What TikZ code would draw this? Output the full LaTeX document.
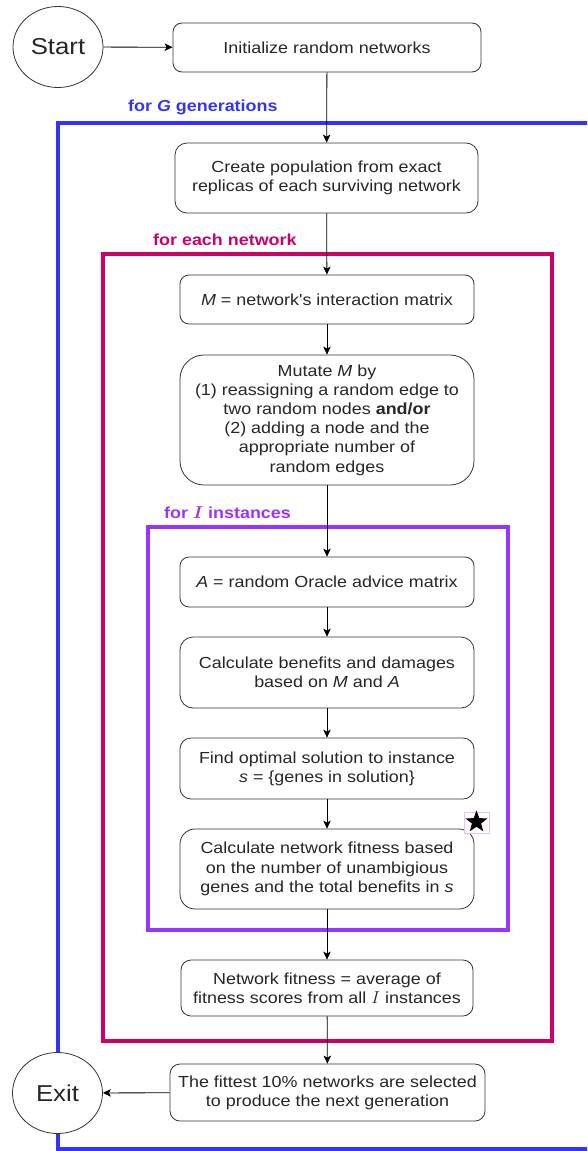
\documentclass[tikz,border=0pt]{standalone}
\usepackage{fontspec}
\setmainfont{Liberation Sans}[FakeStretch=1.12, Ligatures=TeXOff]
\usepackage{bm}
\usetikzlibrary{arrows.meta,shapes.geometric}

\definecolor{genblue}{HTML}{3333FF}
\definecolor{netmagenta}{HTML}{CC0066}
\definecolor{instpurple}{HTML}{9933FF}
\definecolor{boxline}{HTML}{333333}
\definecolor{boxtext}{HTML}{262626}

\tikzset{
  box/.style={draw=boxline, line width=0.8pt, fill=white, rounded corners=#1,
    align=center, inner sep=0pt, text=boxtext, font=\fontsize{16}{19.2}\selectfont},
  box/.default=9pt,
  terminal/.style={ellipse, draw=boxline, line width=0.8pt, fill=white,
    minimum width=90pt, minimum height=81pt, inner sep=0pt, text=boxtext,
    font=\fontsize{23}{27}\selectfont},
  frame/.style={line width=4pt},
  looplabel/.style={anchor=west, inner sep=0pt,
    font=\fontsize{16}{19.2}\selectfont\bfseries},
  flow/.style={line width=0.8pt, -{Stealth[length=8pt,width=7.5pt,inset=2pt]}},
}

\begin{document}
\begin{tikzpicture}[x=1pt,y=-1pt]
\clip (0,0) rectangle (587,1151);
\useasboundingbox (0,0) rectangle (587,1151);

% loop frames
\draw[frame, genblue] (57.5,123) rectangle (640,1149);
\draw[frame, netmagenta] (102.5,254) rectangle (551.5,1041);
\draw[frame, instpurple] (147.5,527) rectangle (507.5,930);

% loop labels
\node[looplabel, text=genblue] (lblG) at (128,107) {for \textit{G} generations};
\node[looplabel, text=netmagenta] (lblN) at (153,240) {for each network};
\node[looplabel, text=instpurple] (lblI) at (164,513) {for $\bm{I}$ instances};

% terminals
\node[terminal] (start) at (58,47) {Start};
\node[terminal] (exit) at (57.5,1093) {Exit};

% process steps
\node[box, minimum width=308pt, minimum height=49pt] (init) at (327,47.5)
  {Initialize random networks};
\node[box=12pt, minimum width=303pt, minimum height=70pt] (create) at (326.5,178)
  {Create population from exact\\replicas of each surviving network};
\node[box, minimum width=294pt, minimum height=49pt] (mmat) at (327,299.5)
  {\textit{M} = network's interaction matrix};
\node[box=24pt, minimum width=294pt, minimum height=130pt] (mutate) at (327,420)
  {Mutate \textit{M} by\\(1) reassigning a random edge to\\two random nodes \textbf{and/or}\\
   (2) adding a node and the\\appropriate number of\\random edges};
\node[box, minimum width=294pt, minimum height=50pt] (amat) at (327,582)
  {\textit{A} = random Oracle advice matrix};
\node[box=13pt, minimum width=294pt, minimum height=71pt] (benefit) at (327,672.5)
  {Calculate benefits and damages\\based on \textit{M} and \textit{A}};
\node[box=11pt, minimum width=294pt, minimum height=61pt] (solve) at (327,768.5)
  {Find optimal solution to instance\\\textit{s} = \{genes in solution\}};
\node[box=15pt, minimum width=294pt, minimum height=80pt] (fitness) at (327,869)
  {Calculate network fitness based\\on the number of unambigious\\genes and the total benefits in \textit{s}};
\node[box=10pt, minimum width=292pt, minimum height=56pt] (average) at (327,988)
  {Network fitness = average of\\fitness scores from all $I$ instances};
\node[box=10pt, minimum width=315pt, minimum height=57pt] (select) at (327.5,1092.5)
  {The fittest 10\% networks are selected\\to produce the next generation};

% marker on the fitness step
\node[draw=instpurple!30, line width=0.5pt, fill=white, minimum width=25pt,
  minimum height=21pt, inner sep=0pt] (markbox) at (476.5,822.5) {};
\node[star, star points=5, star point ratio=2.4, fill=black, minimum size=23pt, inner sep=0pt]
  (mark) at ([yshift=0.5pt]markbox.center) {};

% connectors
\draw[flow] (start) -- (init);
\draw[flow] (init) -- (create);
\draw[flow] (create) -- (mmat);
\draw[flow] (mmat) -- (mutate);
\draw[flow] (mutate) -- (amat);
\draw[flow] (amat) -- (benefit);
\draw[flow] (benefit) -- (solve);
\draw[flow] (solve) -- (fitness);
\draw[flow] (fitness) -- (average);
\draw[flow] (average) -- (select);
\draw[flow] (select) -- (exit);
\end{tikzpicture}
\end{document}
